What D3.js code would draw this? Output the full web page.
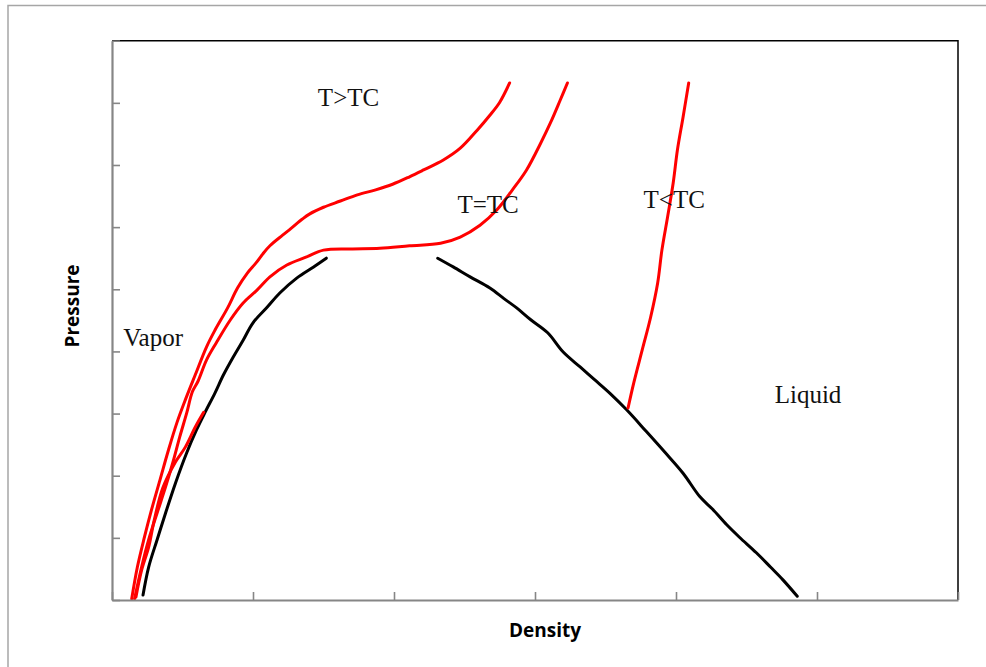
<!DOCTYPE html>
<html>
<head>
<meta charset="utf-8">
<script src="https://cdn.jsdelivr.net/npm/d3@7"></script>
<style>
  html, body { margin: 0; padding: 0; background: #fff; }
  svg { display: block; }
</style>
</head>
<body>
<svg id="chart" width="986" height="667"></svg>
<script>
// ---- Data (density, pressure) in arbitrary units ----
const xTicks = [0, 1, 2, 3, 4, 5, 6];
const yTicks = [0, 1, 2, 3, 4, 5, 6, 7, 8, 9];

const isothermAbove = [
  [0.14,0.02],[0.18,0.53],[0.23,1.01],[0.28,1.45],[0.34,1.93],[0.40,2.41],[0.46,2.85],
  [0.52,3.22],[0.59,3.62],[0.67,4.07],[0.73,4.34],[0.82,4.70],[0.89,5.02],[0.96,5.26],
  [1.02,5.42],[1.07,5.57],[1.12,5.70],[1.21,5.87],[1.27,5.98],[1.35,6.13],[1.40,6.21],
  [1.50,6.32],[1.62,6.42],[1.74,6.52],[1.87,6.60],[1.99,6.69],[2.11,6.81],[2.21,6.92],
  [2.35,7.08],[2.47,7.27],[2.59,7.56],[2.68,7.80],[2.75,8.01],[2.82,8.32]
];

const isothermCritical = [
  [0.16,0.02],[0.21,0.53],[0.26,0.97],[0.32,1.40],[0.38,1.82],[0.43,2.20],[0.48,2.62],
  [0.53,3.01],[0.57,3.35],[0.61,3.52],[0.67,3.86],[0.74,4.14],[0.84,4.51],[0.93,4.78],
  [1.03,4.99],[1.12,5.20],[1.24,5.39],[1.38,5.52],[1.50,5.63],[1.69,5.65],[1.90,5.66],
  [2.11,5.70],[2.33,5.74],[2.47,5.84],[2.61,6.03],[2.73,6.28],[2.84,6.60],[2.94,6.92],
  [3.04,7.35],[3.11,7.68],[3.18,8.05],[3.23,8.32]
];

const isothermBelowVapor = [
  [0.17,0.05],[0.21,0.48],[0.26,0.85],[0.30,1.29],[0.36,1.80],[0.45,2.22],[0.52,2.46],
  [0.59,2.78],[0.65,3.02]
];

const isothermBelowLiquid = [
  [3.66,3.09],[3.70,3.49],[3.76,4.02],[3.82,4.55],[3.87,5.10],[3.90,5.63],[3.94,6.16],
  [3.98,6.71],[4.01,7.24],[4.05,7.77],[4.09,8.32]
];

const vaporBranch = [
  [0.22,0.08],[0.26,0.53],[0.32,0.97],[0.38,1.40],[0.45,1.88],[0.53,2.37],[0.60,2.74],
  [0.66,3.02],[0.73,3.33],[0.79,3.62],[0.86,3.91],[0.93,4.18],[1.00,4.46],[1.10,4.71],
  [1.19,4.94],[1.31,5.18],[1.43,5.36],[1.52,5.50]
];

const liquidBranch = [
  [2.31,5.50],[2.42,5.36],[2.54,5.20],[2.68,5.02],[2.78,4.85],[2.87,4.70],[2.97,4.51],
  [3.09,4.30],[3.20,3.99],[3.32,3.75],[3.42,3.55],[3.53,3.33],[3.65,3.06],[3.79,2.71],
  [3.92,2.38],[4.05,2.04],[4.17,1.66],[4.26,1.46],[4.36,1.21],[4.45,1.01],[4.57,0.76],
  [4.67,0.53],[4.76,0.32],[4.86,0.06]
];

const annotations = [
  { text: "T>TC",   x: 1.46, y: 7.95 },
  { text: "T=TC",   x: 2.45, y: 6.23 },
  { text: "T<TC",   x: 3.77, y: 6.30 },
  { text: "Vapor",  x: 0.08, y: 4.08 },
  { text: "Liquid", x: 4.70, y: 3.17 }
];

const xTitle = "Density";
const yTitle = "Pressure";

// ---- Layout ----
const svg = d3.select("#chart");
const L = 112, R = 958, T = 40.7, B = 600;

const x = d3.scaleLinear().domain([0, 6]).range([L, R]);
const y = d3.scaleLinear().domain([0, 9]).range([B, T]);

// outer frame (extends beyond the visible window)
svg.append("rect")
  .attr("x", 8).attr("y", 5.5)
  .attr("width", 1100).attr("height", 800)
  .attr("fill", "none")
  .attr("stroke", "#a6a6a6")
  .attr("stroke-width", 1.5);

// top and right plot border (black)
svg.append("path")
  .attr("d", `M${L},${T}H${R}V${B}`)
  .attr("fill", "none")
  .attr("stroke", "#000")
  .attr("stroke-width", 1.5);

const line = d3.line().x(d => x(d[0])).y(d => y(d[1])).curve(d3.curveCatmullRom.alpha(0.5));

const curves = [
  { data: vaporBranch, color: "#000" },
  { data: liquidBranch, color: "#000" },
  { data: isothermAbove, color: "#ff0000" },
  { data: isothermCritical, color: "#ff0000" },
  { data: isothermBelowVapor, color: "#ff0000" },
  { data: isothermBelowLiquid, color: "#ff0000" }
];

svg.append("g").selectAll("path")
  .data(curves)
  .join("path")
  .attr("d", d => line(d.data))
  .attr("fill", "none")
  .attr("stroke", d => d.color)
  .attr("stroke-width", 3)
  .attr("stroke-linejoin", "round")
  .attr("stroke-linecap", "round");

// axes
const axisColor = "#868686";
const gx = svg.append("g")
  .attr("transform", `translate(0,${B})`)
  .call(d3.axisBottom(x).tickValues(xTicks).tickSize(-8).tickSizeOuter(0).tickFormat(""));
const gy = svg.append("g")
  .attr("transform", `translate(${L},0)`)
  .call(d3.axisLeft(y).tickValues(yTicks).tickSize(-8).tickSizeOuter(0).tickFormat(""));
[gx, gy].forEach(g => {
  g.select(".domain").attr("stroke", axisColor).attr("stroke-width", 2.2);
  g.selectAll(".tick line").attr("stroke", axisColor).attr("stroke-width", 1.6);
});

// annotations
svg.append("g").selectAll("text")
  .data(annotations)
  .join("text")
  .attr("x", d => x(d.x))
  .attr("y", d => y(d.y))
  .attr("font-family", "'Liberation Serif', 'DejaVu Serif', serif")
  .attr("font-size", 25)
  .attr("fill", "#111")
  .text(d => d.text);

// axis titles
svg.append("text")
  .attr("x", (L + R) / 2 + 10)
  .attr("y", 637)
  .attr("text-anchor", "middle")
  .attr("font-family", "'Open Sans', sans-serif")
  .attr("font-weight", "bold")
  .attr("font-size", 19)
  .attr("fill", "#000")
  .text(xTitle);

svg.append("text")
  .attr("transform", `translate(79,306) rotate(-90)`)
  .attr("text-anchor", "middle")
  .attr("font-family", "'Open Sans', sans-serif")
  .attr("font-weight", "bold")
  .attr("font-size", 19)
  .attr("fill", "#000")
  .text(yTitle);
</script>
</body>
</html>
